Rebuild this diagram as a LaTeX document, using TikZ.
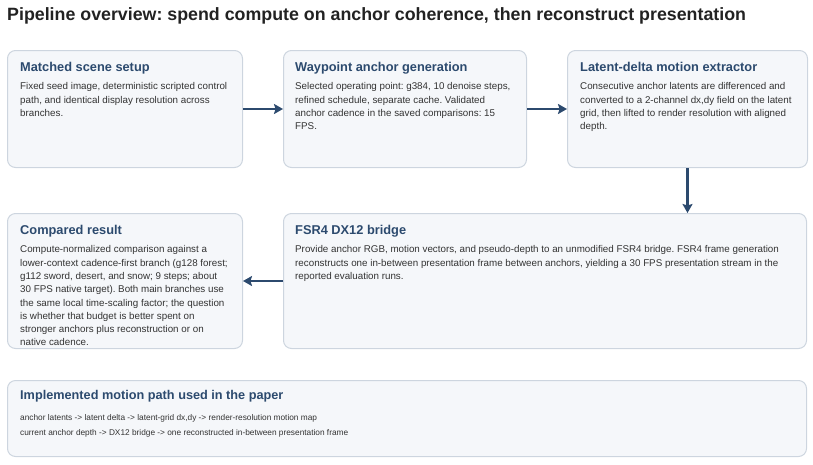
\documentclass[tikz,border=0pt]{standalone}
\usepackage{fontspec}
\setmainfont{Liberation Sans}
\frenchspacing
\usetikzlibrary{positioning,arrows.meta}
\definecolor{cardfill}{HTML}{F5F7FA}
\definecolor{cardline}{HTML}{CDD5DF}
\definecolor{headblue}{HTML}{2C4A6E}
\definecolor{bodygray}{HTML}{333333}
\definecolor{titleblack}{HTML}{222222}

\begin{document}
\begin{tikzpicture}[x=1pt, y=-1pt,
	card/.style={draw=cardline, line width=1pt, fill=cardfill, rounded corners=8pt, anchor=north west, inner sep=0pt},
	cardhead/.style={anchor=base west, inner sep=0pt, text=headblue, font=\fontsize{12.8}{15}\selectfont\bfseries},
	cardbody/.style={anchor=north west, inner sep=0pt, align=left, text=bodygray, font=\fontsize{9.8}{13.3}\selectfont},
	flow/.style={->, >={Stealth[length=9pt, width=10pt, inset=1.5pt]}, draw=headblue, line width=2.6pt}]
	\useasboundingbox (0,0) rectangle (813,464);
	\node[anchor=base west, inner sep=0pt, text=titleblack, font=\fontsize{17.8}{20}\selectfont\bfseries] (title) at (7,20) {Pipeline overview: spend compute on anchor coherence, then reconstruct presentation};

	% top row
	\node[card, minimum width=235pt, minimum height=117pt] (setup) at (7,50) {};
	\node[cardhead] (setuphead) at ([xshift=13pt, yshift=-21pt]setup.north west) {Matched scene setup};
	\node[cardbody] (setupbody) at ([xshift=13pt, yshift=-32.5pt]setup.north west) {Fixed seed image, deterministic scripted control\\path, and identical display resolution across\\branches.};

	\node[card, minimum width=243pt, minimum height=117pt] (anchors) at (283,50) {};
	\node[cardhead] (anchorshead) at ([xshift=12pt, yshift=-21pt]anchors.north west) {Waypoint anchor generation};
	\node[cardbody] (anchorsbody) at ([xshift=12pt, yshift=-32.5pt]anchors.north west) {Selected operating point: g384, 10 denoise steps,\\refined schedule, separate cache. Validated\\anchor cadence in the saved comparisons: 15\\FPS.};

	\node[card, minimum width=240pt, minimum height=117pt] (extractor) at (567,50) {};
	\node[cardhead] (extractorhead) at ([xshift=13pt, yshift=-21pt]extractor.north west) {Latent-delta motion extractor};
	\node[cardbody] (extractorbody) at ([xshift=13pt, yshift=-32.5pt]extractor.north west) {Consecutive anchor latents are differenced and\\converted to a 2-channel dx,dy field on the latent\\grid, then lifted to render resolution with aligned\\depth.};

	% middle row
	\node[card, minimum width=523pt, minimum height=135pt] (bridge) at (283,213) {};
	\node[cardhead] (bridgehead) at ([xshift=12pt, yshift=-21pt]bridge.north west) {FSR4 DX12 bridge};
	\node[cardbody] (bridgebody) at ([xshift=12pt, yshift=-32.5pt]bridge.north west) {Provide anchor RGB, motion vectors, and pseudo-depth to an unmodified FSR4 bridge. FSR4 frame generation\\reconstructs one in-between presentation frame between anchors, yielding a 30 FPS presentation stream in the\\reported evaluation runs.};

	\node[card, minimum width=235pt, minimum height=135pt] (result) at (7,213) {};
	\node[cardhead] (resulthead) at ([xshift=13pt, yshift=-21pt]result.north west) {Compared result};
	\node[cardbody] (resultbody) at ([xshift=13pt, yshift=-32.5pt]result.north west) {Compute-normalized comparison against a\\lower-context cadence-first branch (g128 forest;\\g112 sword, desert, and snow; 9 steps; about\\30 FPS native target). Both main branches use\\the same local time-scaling factor; the question\\is whether that budget is better spent on\\stronger anchors plus reconstruction or on\\native cadence.};

	% bottom strip
	\node[card, minimum width=799pt, minimum height=76pt] (motionpath) at (7,380) {};
	\node[cardhead, font=\fontsize{12.7}{15}\selectfont\bfseries] (motionpathhead) at ([xshift=13pt, yshift=-19.5pt]motionpath.north west) {Implemented motion path used in the paper};
	\node[cardbody, font=\fontsize{8.3}{15}\selectfont] (motionpathbody) at ([xshift=13pt, yshift=-34.5pt]motionpath.north west) {anchor latents -> latent delta -> latent-grid dx,dy -> render-resolution motion map\\current anchor depth -> DX12 bridge -> one reconstructed in-between presentation frame};

	\draw[flow] (setup) -- (anchors);
	\draw[flow] (anchors) -- (extractor);
	\draw[flow] (extractor.south) -- (extractor.south |- bridge.north);
	\draw[flow] (bridge) -- (result);
\end{tikzpicture}
\end{document}
